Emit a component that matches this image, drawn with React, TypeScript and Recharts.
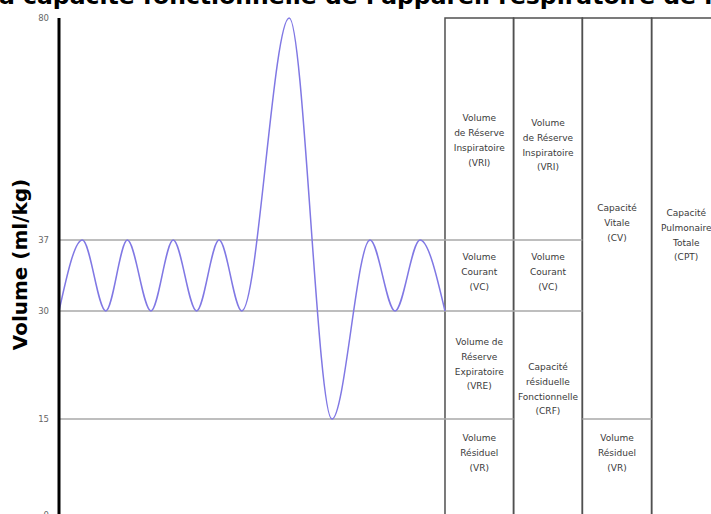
import React from "react";
import { LineChart, Line, XAxis, YAxis, ReferenceLine, ReferenceArea } from "recharts";

// spirogram: time in half-breaths, volume in ml/kg
const breathTime = [0, 1.03, 2.06, 3.01, 4.05, 5.03, 6.06, 7.05, 8.05, 10.14, 12.02, 13.7, 14.8, 15.9, 17];
const breathVolume = [30, 37, 30, 37, 30, 37, 30, 37, 30, 80, 15, 37, 30, 37, 30];

// the volume axis is broken: each tick has its own place (px above the bottom)
const volumeTicks = [0, 15, 30, 37, 80];
const tickPlace = [0, 96, 204, 275, 497];

// left edges of the 4 boxes on the right (+ right edge of the last one)
const columnEdges = [17, 20.02, 23.05, 26.1, 29.15];

const titleText = "a capacité fonctionnelle de l'appareil respiratoire de l";

const cells = [
  { col: 0, from: 80, to: 37, lines: ["Volume", "de Réserve", "Inspiratoire", "(VRI)"], shift: 11.5 },
  { col: 0, from: 37, to: 30, lines: ["Volume", "Courant", "(VC)"], shift: -3.5 },
  { col: 0, from: 30, to: 15, lines: ["Volume de", "Réserve", "Expiratoire", "(VRE)"], shift: -1 },
  { col: 0, from: 15, to: 0, lines: ["Volume", "Résiduel", "(VR)"], shift: -14 },
  { col: 1, from: 80, to: 37, lines: ["Volume", "de Réserve", "Inspiratoire", "(VRI)"], shift: 16 },
  { col: 1, from: 37, to: 30, lines: ["Volume", "Courant", "(VC)"], shift: -3.5 },
  { col: 1, from: 30, to: 0, lines: ["Capacité", "résiduelle", "Fonctionnelle", "(CRF)"], shift: -24 },
  { col: 2, from: 80, to: 15, lines: ["Capacité", "Vitale", "(CV)"], shift: 4.5 },
  { col: 2, from: 15, to: 0, lines: ["Volume", "Résiduel", "(VR)"], shift: -14 },
  { col: 3, from: 80, to: 0, lines: ["Capacité", "Pulmonaire", "Totale", "(CPT)"], shift: -31.5 },
];

// grey level lines: volume, start, end (x in time units)
const dividers = [
  { level: 37, x1: 0, x2: columnEdges[2] },
  { level: 30, x1: 0, x2: columnEdges[2] },
  { level: 15, x1: 0, x2: columnEdges[1] },
  { level: 15, x1: columnEdges[2], x2: columnEdges[3] },
];

const FONT = "DejaVu Sans, Verdana, sans-serif";

function toAxis(v: number) {
  for (let i = 1; i < volumeTicks.length; i++) {
    if (v <= volumeTicks[i]) {
      const a = volumeTicks[i - 1];
      const b = volumeTicks[i];
      return tickPlace[i - 1] + ((v - a) / (b - a)) * (tickPlace[i] - tickPlace[i - 1]);
    }
  }
  return tickPlace[tickPlace.length - 1];
}

const data = breathTime.map((t, i) => ({ t, v: toAxis(breathVolume[i]) }));

const CellLabel = ({ viewBox, lines, shift }: any) => {
  if (!viewBox) return null;
  const cx = viewBox.x + viewBox.width / 2;
  const cy = viewBox.y + viewBox.height / 2 + shift;
  const gap = 14.8;
  const first = cy - ((lines.length - 1) * gap) / 2;
  return (
    <text textAnchor="middle" fontFamily={FONT} fontSize={9} fill="#3a3a3a">
      {lines.map((l: string, i: number) => (
        <tspan key={i} x={cx} y={first + i * gap} dy="0.35em">
          {l}
        </tspan>
      ))}
    </text>
  );
};

const AxisTitle = ({ viewBox }: any) => {
  if (!viewBox) return null;
  const x = 27;
  const y = viewBox.y + viewBox.height / 2 - 2;
  return (
    <text
      x={x}
      y={y}
      transform={`rotate(-90, ${x}, ${y})`}
      textAnchor="middle"
      fontFamily={FONT}
      fontWeight="bold"
      fontSize={20}
      fill="#000"
    >
      Volume (ml/kg)
    </text>
  );
};

export default function App() {
  return (
    <div
      style={{
        position: "absolute",
        left: 0,
        top: 0,
        width: 711,
        height: 514,
        overflow: "hidden",
        background: "#fff",
      }}
    >
      <LineChart width={722} height={530} data={data} margin={{ top: 18, right: 0, bottom: 15, left: 0 }}>
        <XAxis type="number" dataKey="t" domain={[0, 29.2]} hide />
        <YAxis
          type="number"
          domain={[0, 497]}
          ticks={tickPlace}
          interval={0}
          width={59}
          tickLine={false}
          tickMargin={4}
          axisLine={{ stroke: "#000", strokeWidth: 3 }}
          tick={{ fontSize: 8.5, fill: "#666", fontFamily: FONT }}
          tickFormatter={(v: number) => String(volumeTicks[tickPlace.indexOf(v)])}
          label={<AxisTitle />}
        />
        {dividers.map((d, i) => (
          <ReferenceLine
            key={`d${i}`}
            segment={[
              { x: d.x1, y: toAxis(d.level) },
              { x: d.x2, y: toAxis(d.level) },
            ]}
            stroke="#a8a8a8"
            strokeWidth={1.5}
            ifOverflow="visible"
          />
        ))}
        {columnEdges.slice(0, -1).map((x, i) => (
          <ReferenceArea
            key={`c${i}`}
            x1={x}
            x2={columnEdges[i + 1]}
            y1={0}
            y2={497}
            fill="none"
            fillOpacity={0}
            stroke="#505050"
            strokeWidth={1.5}
            ifOverflow="visible"
          />
        ))}
        {cells.map((c, i) => (
          <ReferenceArea
            key={`l${i}`}
            x1={columnEdges[c.col]}
            x2={columnEdges[c.col + 1]}
            y1={toAxis(c.to)}
            y2={toAxis(c.from)}
            fill="none"
            fillOpacity={0}
            stroke="none"
            ifOverflow="visible"
            label={<CellLabel lines={c.lines} shift={c.shift} />}
          />
        ))}
        <Line
          type="monotone"
          dataKey="v"
          stroke="#8078e4"
          strokeWidth={1.5}
          dot={false}
          isAnimationActive={false}
        />
      </LineChart>
      <div
        style={{
          position: "absolute",
          left: -1,
          top: -15,
          fontFamily: FONT,
          fontWeight: "bold",
          fontSize: 23.5,
          lineHeight: "23.5px",
          whiteSpace: "nowrap",
          color: "#000",
        }}
      >
        {titleText}
      </div>
    </div>
  );
}
